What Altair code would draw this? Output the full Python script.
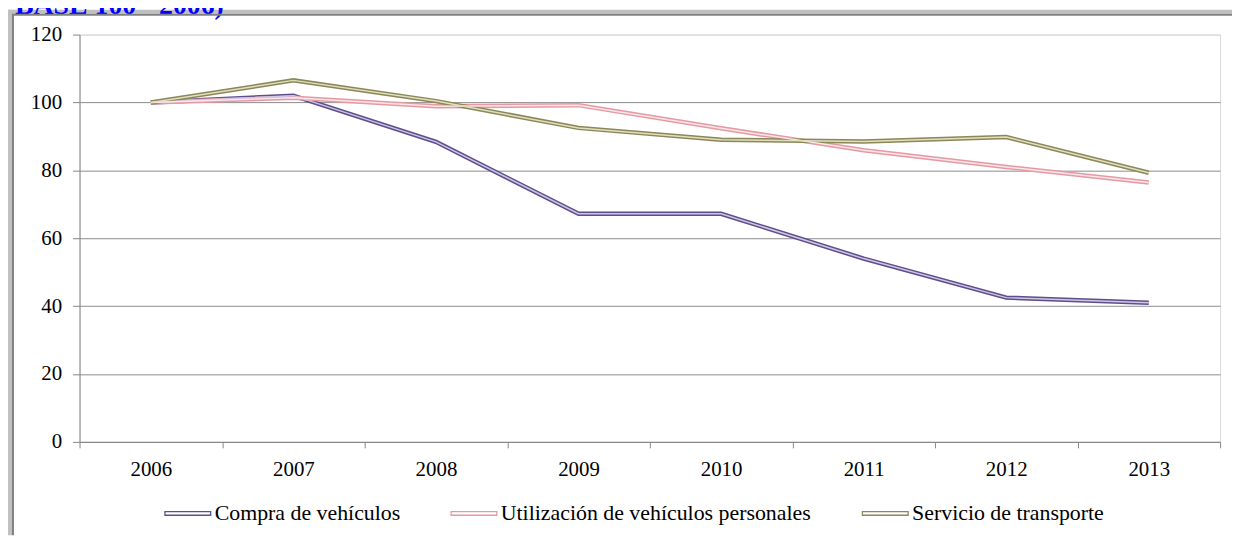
import altair as alt
import pandas as pd

years = ["2006", "2007", "2008", "2009", "2010", "2011", "2012", "2013"]
series_names = ["Compra de vehículos", "Utilización de vehículos personales", "Servicio de transporte"]
compra = [100, 102.0, 88.4, 67.2, 67.2, 54.0, 42.5, 41.0]
utilizacion = [100, 101.4, 98.9, 99.2, 92.4, 85.9, 81.0, 76.4]
servicio = [100, 106.5, 100.4, 92.5, 89.0, 88.5, 89.8, 79.3]
y_ticks = [0, 20, 40, 60, 80, 100, 120]
title_text = "BASE 100= 2006)"

outer_colors = ["#5e4f8c", "#e59aa3", "#8b8758"]
inner_colors = ["#cfc6e6", "#fbe6e9", "#e2dfbf"]

rows = []
for name, vals in zip(series_names, [compra, utilizacion, servicio]):
    for yr, v in zip(years, vals):
        rows.append({"year": yr, "serie": name, "valor": v})
df = pd.DataFrame(rows)

W, H = 1148, 410
FONT = "Times New Roman, Liberation Serif, serif"

x_enc = alt.X(
    "year:N", sort=years, bandPosition=0.5,
    scale=alt.Scale(type="band", paddingInner=0, paddingOuter=0),
    axis=alt.Axis(title=None, labelAngle=0, tickBand="extent", grid=False,
                  tickSize=6, labelPadding=11, labelFont=FONT, labelFontSize=21,
                  labelColor="black", domainColor="#868686", tickColor="#868686"),
)
y_enc = alt.Y(
    "valor:Q",
    scale=alt.Scale(domain=[0, 120], nice=False, zero=True),
    axis=alt.Axis(title=None, values=y_ticks, tickSize=7, labelPadding=11,
                  labelFont=FONT, labelFontSize=21, labelColor="black",
                  domainColor="#868686", tickColor="#868686",
                  gridColor={"condition": {"test": "datum.value == 120", "value": "#d9d9d9"},
                             "value": "#8c8c8c"}),
)

legend = alt.Legend(orient="none", legendX=85, legendY=458, direction="horizontal",
                    columns=3, symbolType="M-1,-0.08H1V0.08H-1Z", symbolStrokeWidth=1.3,
                    symbolSize=2116, labelFont=FONT, labelFontSize=22, labelLimit=0,
                    labelColor="black", labelOffset=3, columnPadding=48,
                    title=None, padding=0)

outer = alt.Chart(df).mark_line(strokeWidth=4.5).encode(
    x=x_enc, y=y_enc,
    color=alt.Color("serie:N", sort=series_names,
                    scale=alt.Scale(domain=series_names, range=outer_colors),
                    legend=legend),
)
inner = alt.Chart(df).mark_line(strokeWidth=1.5).encode(
    x=x_enc, y=y_enc,
    color=alt.Color("serie2:N", sort=series_names,
                    scale=alt.Scale(domain=series_names, range=inner_colors),
                    legend=None),
).transform_calculate(serie2="datum.serie")

one = pd.DataFrame({"a": [0]})
gray_top = alt.Chart(one).mark_rect(color="#c0c0c0").encode(
    x=alt.value(-72), x2=alt.value(1160), y=alt.value(-25), y2=alt.value(-21))
gray_left = alt.Chart(one).mark_rect(color="#c0c0c0").encode(
    x=alt.value(-72), x2=alt.value(-68), y=alt.value(-25), y2=alt.value(504))
dark_top = alt.Chart(one).mark_rect(color="#808080").encode(
    x=alt.value(-68), x2=alt.value(1160), y=alt.value(-21), y2=alt.value(-19))
dark_left = alt.Chart(one).mark_rect(color="#808080").encode(
    x=alt.value(-68), x2=alt.value(-66), y=alt.value(-21), y2=alt.value(504))
title = alt.Chart(one).mark_text(text=title_text, font=FONT, fontSize=28, fontWeight="bold",
                                 color="#0000ff", align="left", baseline="alphabetic").encode(
    x=alt.value(-65), y=alt.value(-21))

chart = alt.layer(gray_top, gray_left, title, dark_top, dark_left, outer, inner).resolve_scale(
    color="independent"
).properties(
    width=W, height=H,
    padding={"left": 72, "top": 25, "right": 12, "bottom": 94},
    autosize=alt.AutoSizeParams(type="none"),
    background="white",
).configure_view(
    stroke="#d9d9d9", strokeWidth=1
).configure_legend(
    labelFont=FONT, labelFontSize=22, labelColor="black"
)

chart.save("out.html", embed_options={"renderer": "svg", "actions": False})
